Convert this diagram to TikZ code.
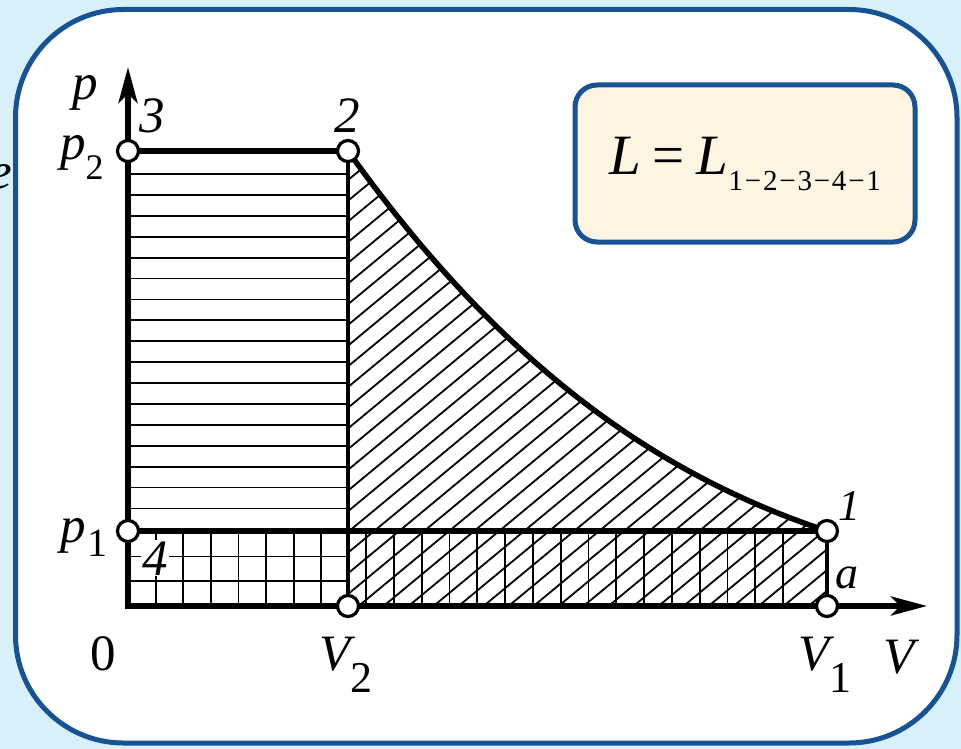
\documentclass[tikz,border=0pt]{standalone}
\usepackage{fontspec}
\setmainfont{Liberation Serif}
\usetikzlibrary{arrows.meta}
\definecolor{bgblue}{RGB}{216,240,249}
\definecolor{frameblue}{RGB}{22,82,148}
\definecolor{cream}{RGB}{253,245,226}
\begin{document}
\begin{tikzpicture}[x=1pt,y=-1pt,
  thickline/.style={line width=5.5pt},
  hatchline/.style={line width=1.8pt},
  statept/.style={circle, draw, fill=white, line width=3.2pt, minimum size=21pt, inner sep=0pt},
  lbl/.style={inner sep=0pt, anchor=base west, font=\fontsize{51}{51}\selectfont},
  axisarrows/.style={{Stealth[length=36pt,width=19pt,inset=9pt]}-{Stealth[length=36pt,width=19pt,inset=9pt]}},
]
\useasboundingbox (0,0) rectangle (961,749);
\fill[bgblue] (0,0) rectangle (961,749);
\node[lbl] (ecut) at (-11,188) {\itshape e};
\draw[frameblue, line width=5pt, fill=white, rounded corners=108pt] (15.5,9.5) rectangle (957,743);

% formula box
\node[draw=frameblue, line width=5pt, fill=cream, rounded corners=22pt,
      minimum width=340pt, minimum height=157pt, inner sep=0pt,
      font=\fontsize{57}{57}\selectfont] (formula) at (745,163.5)
  {{\itshape L}\hspace{12pt}=\hspace{12pt}{\itshape L}\raisebox{-16pt}{\fontsize{29}{29}\selectfont 1\hspace{1.8pt}−\hspace{1.8pt}2\hspace{1.8pt}−\hspace{1.8pt}3\hspace{1.8pt}−\hspace{1.8pt}4\hspace{1.8pt}−\hspace{1.8pt}1}};

% key points
\coordinate (O) at (128,606);
\coordinate (P3) at (128,151);
\coordinate (P2) at (348,151);
\coordinate (P4) at (128,531);
\coordinate (P1) at (827,531);
\coordinate (PV2) at (348,606);
\coordinate (PV1) at (827,606);
\coordinate (ytip) at (128,67);
\coordinate (xtip) at (927,606);

% diagonal hatching under the curve
\begin{scope}
\clip (P2) .. controls (508,375) and (667,478) .. (P1) -- (PV1) -- (PV2) -- cycle;
\foreach \k in {-20,...,22}
  \draw[hatchline] ({373+25*\k-106.3},620) -- ({373+25*\k+473.4},140);
\end{scope}

% horizontal hatching 2-3 region
\foreach \i in {0,...,16}
  \draw[hatchline] (128,{174+20.9*\i}) -- (348,{174+20.9*\i});

% grid lower-left
\foreach \i in {1,...,7}
  \draw[hatchline] ({128+27.6*\i},531) -- ({128+27.6*\i},606);
\draw[hatchline] (128,556.5) -- (348,556.5);
\draw[hatchline] (128,581) -- (348,581);

% verticals lower-right
\foreach \i in {0,...,15}
  \draw[hatchline] ({366+27.8*\i},531) -- ({366+27.8*\i},606);

% process lines
\draw[line width=3.5pt] (P2) -- (PV2);
\draw[line width=4pt] (P1) -- (PV1);
\draw[thickline] (P3) -- (P2);
\draw[thickline] (P4) -- (P1);
\draw[thickline] (P2) .. controls (508,375) and (667,478) .. (P1);
\draw[thickline, line join=miter, axisarrows] (ytip) -- (O) -- (xtip);

% state circles
\node[statept] (c3) at (P3) {};
\node[statept] (c2) at (P2) {};
\node[statept] (c4) at (P4) {};
\node[statept] (c1) at (P1) {};
\node[statept] (cv2) at (PV2) {};
\node[statept] (cv1) at (PV1) {};

% labels
\node[lbl] (lp) at (72,100) {\itshape p};
\node[lbl] (l3) at (139,132) {\itshape 3};
\node[lbl] (l2) at (334,132) {\itshape 2};
\node[lbl] (lp2) at (60,160) {\itshape p\upshape\raisebox{-20pt}{\fontsize{36}{36}\selectfont 2}};
\node[lbl] (lp1) at (60,542) {\itshape p\upshape\hspace{2pt}\raisebox{-14pt}{\fontsize{40}{40}\selectfont 1}};
\node[lbl, fill=white, inner sep=1pt] (l4) at (141,575) {\itshape 4};
\node[lbl] (l0) at (90,670) {0};
\node[lbl] (lv2) at (319,670) {\itshape V\upshape\raisebox{-22pt}{\fontsize{44}{44}\selectfont 2}};
\node[lbl] (lv1) at (798,670) {\itshape V\upshape\raisebox{-22pt}{\fontsize{44}{44}\selectfont 1}};
\node[lbl] (lv) at (883,673) {\itshape V};
\node[lbl, font=\fontsize{44}{44}\selectfont] (l1) at (838,520) {\itshape 1};
\node[lbl, font=\fontsize{46}{46}\selectfont] (la) at (835,588) {\itshape a};
\end{tikzpicture}
\end{document}
